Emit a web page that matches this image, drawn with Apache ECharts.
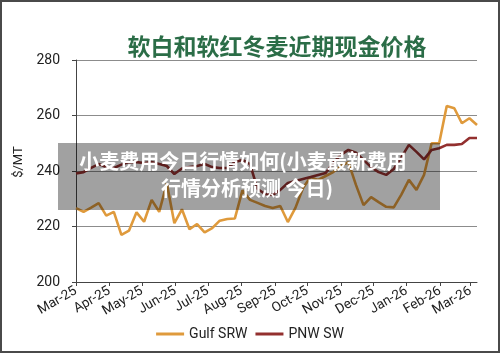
<!DOCTYPE html>
<html>
<head>
<meta charset="utf-8">
<script src="https://cdn.jsdelivr.net/npm/echarts@6/dist/echarts.min.js"></script>
<style>
  html, body { margin: 0; padding: 0; background: #fff; }
  #chart {
    width: 500px;
    height: 353px;
    box-sizing: border-box;
    border: 2px solid #4a4a4a;
  }
</style>
</head>
<body>
<div id="chart"></div>
<script>
// weekly observation dates
const weeks = [
  '2025-03-01', '2025-03-08', '2025-03-15', '2025-03-22', '2025-03-29',
  '2025-04-05', '2025-04-12', '2025-04-19', '2025-04-26',
  '2025-05-03', '2025-05-10', '2025-05-17', '2025-05-24', '2025-05-31',
  '2025-06-07', '2025-06-14', '2025-06-21', '2025-06-28',
  '2025-07-05', '2025-07-12', '2025-07-19', '2025-07-26',
  '2025-08-02', '2025-08-09', '2025-08-16', '2025-08-23', '2025-08-30',
  '2025-09-06', '2025-09-13', '2025-09-20', '2025-09-27',
  '2025-10-04', '2025-10-11', '2025-10-18', '2025-10-25',
  '2025-11-01', '2025-11-08', '2025-11-15', '2025-11-22', '2025-11-29',
  '2025-12-06', '2025-12-13', '2025-12-20', '2025-12-27',
  '2026-01-03', '2026-01-10', '2026-01-17', '2026-01-24', '2026-01-31',
  '2026-02-07', '2026-02-14', '2026-02-21', '2026-02-28',
  '2026-03-07'
]

// Gulf SRW 现金价格 ($/MT)
const gulfSRW = [
  226.6, 225.3, 226.8, 228.4, 223.9, 225.3, 217.0, 218.5, 225.1, 221.7,
  229.6, 225.3, 235.6, 221.2, 226.2, 219.0, 220.9, 217.9, 219.4, 222.1,
  222.7, 222.9, 233.0, 229.6, 228.5, 227.4, 226.7, 227.4, 221.6, 226.7,
  233.9, 237.8, 236.8, 238.2, 239.6, 241.8, 243.2, 235.0, 227.7, 230.6,
  228.8, 227.1, 226.9, 231.5, 236.8, 233.2, 238.6, 250.0, 250.0, 263.4,
  262.6, 257.2, 259.0, 256.6
]

// PNW SW 现金价格 ($/MT)
const pnwSW = [
  239.1, 239.6, 241.1, 242.5, 241.4, 241.1, 242.3, 243.2, 243.2, 242.9,
  243.2, 242.5, 241.8, 238.9, 240.9, 241.4, 241.8, 242.5, 241.4, 241.1,
  241.1, 243.2, 244.0, 242.5, 233.5, 231.7, 231.4, 233.2, 235.7, 236.4,
  237.1, 237.8, 238.6, 239.3, 242.9, 245.8, 247.6, 246.6, 244.0, 241.4,
  239.6, 238.6, 240.7, 244.9, 249.4, 246.9, 244.2, 247.6, 248.2, 249.4,
  249.4, 249.7, 251.9, 251.9
]

// x 轴刻度标签（每月一个）
const monthLabels = [
  'Mar-25', 'Apr-25', 'May-25', 'Jun-25', 'Jul-25', 'Aug-25', 'Sep-25',
  'Oct-25', 'Nov-25', 'Dec-25', 'Jan-26', 'Feb-26', 'Mar-26'
]

const seriesNames = ['Gulf SRW', 'PNW SW']
const seriesColors = ['#df9a3c', '#93302f']

const chartTitle = '软白和软红冬麦近期现金价格'
const overlayLines = ['小麦费用今日行情如何(小麦最新费用', '行情分析预测 今日)']

const chart = echarts.init(document.getElementById('chart'))

const labelFont = 'Roboto, "Liberation Sans", sans-serif'
const overlayFont = 'bold 20px "Noto Sans CJK SC", sans-serif'

const option = {
  animation: false,
  title: {
    text: chartTitle,
    left: 270,
    top: 28,
    textAlign: 'center',
    textStyle: {
      fontFamily: '"Noto Sans CJK SC", sans-serif',
      fontSize: 23,
      fontWeight: 'bold',
      color: '#2b6d47'
    }
  },
  legend: {
    bottom: 5,
    left: 'center',
    icon: 'rect',
    itemWidth: 28,
    itemHeight: 3,
    itemGap: 8,
    textStyle: { fontFamily: labelFont, fontSize: 14, color: '#222' },
    data: seriesNames
  },
  grid: {
    left: 74,
    right: 21,
    top: 58,
    bottom: 69
  },
  xAxis: {
    type: 'time',
    min: weeks[0],
    max: weeks[weeks.length - 1],
    splitNumber: 12,
    minInterval: 28 * 24 * 3600 * 1000,
    maxInterval: 31 * 24 * 3600 * 1000,
    axisLine: { lineStyle: { color: '#444', width: 1 } },
    axisTick: { show: true, length: 4, lineStyle: { color: '#444' } },
    splitLine: { show: false },
    axisLabel: {
      rotate: 30,
      margin: 8,
      fontFamily: labelFont,
      fontSize: 13.5,
      color: '#222',
      hideOverlap: false,
      formatter: function (val) {
        const d = new Date(val)
        const idx = (d.getFullYear() - 2025) * 12 + d.getMonth() - 2
        return monthLabels[idx] || ''
      }
    }
  },
  yAxis: {
    type: 'value',
    min: 200,
    max: 280,
    interval: 20,
    name: '$/MT',
    nameLocation: 'middle',
    nameGap: 49,
    nameRotate: 90,
    nameTextStyle: {
      fontFamily: labelFont,
      fontSize: 13,
      color: '#222',
      padding: [0, 0, 0, 18]
    },
    axisLine: { show: true, lineStyle: { color: '#444', width: 1 } },
    axisTick: { show: true, length: 4, lineStyle: { color: '#444' } },
    splitLine: { lineStyle: { color: '#8c8c8c', width: 1 } },
    axisLabel: {
      margin: 16,
      fontFamily: labelFont,
      fontSize: 14,
      color: '#222'
    }
  },
  series: [
    {
      name: seriesNames[0],
      type: 'line',
      showSymbol: false,
      color: seriesColors[0],
      lineStyle: { width: 2.6, color: seriesColors[0] },
      data: weeks.map((w, i) => [w, gulfSRW[i]])
    },
    {
      name: seriesNames[1],
      type: 'line',
      showSymbol: false,
      color: seriesColors[1],
      lineStyle: { width: 2.6, color: seriesColors[1] },
      data: weeks.map((w, i) => [w, pnwSW[i]])
    }
  ],
  // 页面上叠加的灰色标题条
  graphic: [
    {
      type: 'rect',
      z: 100,
      zlevel: 1,
      shape: { x: 56, y: 141, width: 382, height: 67 },
      style: { fill: 'rgba(0, 0, 0, 0.37)' }
    },
    {
      type: 'text',
      z: 101,
      zlevel: 1,
      style: {
        text: overlayLines[0],
        x: 241, y: 159,
        fill: '#fff',
        font: overlayFont,
        align: 'center', verticalAlign: 'middle',
        textAlign: 'center', textVerticalAlign: 'middle'
      }
    },
    {
      type: 'text',
      z: 101,
      zlevel: 1,
      style: {
        text: overlayLines[1],
        x: 245, y: 186,
        fill: '#fff',
        font: overlayFont,
        align: 'center', verticalAlign: 'middle',
        textAlign: 'center', textVerticalAlign: 'middle'
      }
    }
  ]
}

chart.setOption(option)
window.addEventListener('resize', () => chart.resize())
</script>
</body>
</html>
